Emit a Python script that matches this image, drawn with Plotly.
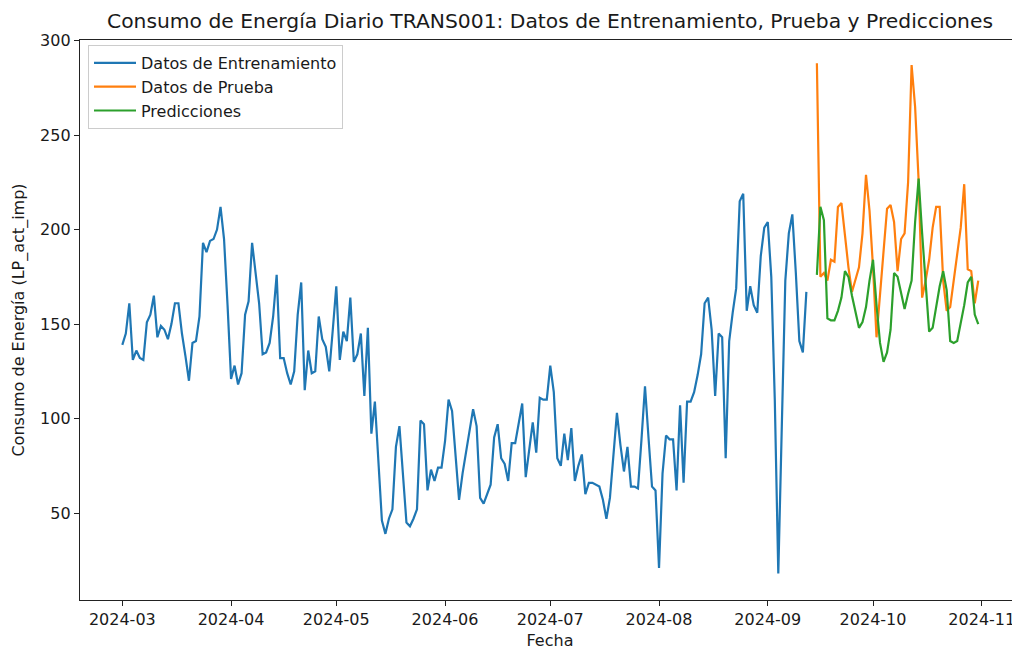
import pandas as pd
import plotly.graph_objects as go

# ---------------- data ----------------
train_start = "2024-03-01"
test_start = "2024-09-15"

train_values = [
    # March
    139, 145, 161, 131, 136, 132, 131, 151, 155, 165, 143, 149, 147, 142, 150, 161,
    161, 145, 133, 120, 140, 141, 154, 193, 188, 194, 195, 200, 212, 195, 160,
    # April
    121, 128, 118, 124, 155, 162, 193, 177, 161, 134, 135, 140, 154, 176, 132,
    132, 124, 118, 125, 155, 172, 115, 136, 124, 125, 154, 142, 138, 125, 147,
    # May
    170, 131, 146, 141, 164, 130, 134, 145, 112, 148, 92, 109, 78, 46, 39, 47,
    52, 85, 96, 69, 45, 43, 47, 52, 99, 97, 62, 73, 67, 74, 74,
    # June
    88, 110, 104, 80, 57, 71, 83, 94, 105, 96, 58, 55, 60, 65, 90,
    97, 79, 76, 67, 87, 87, 97, 108, 69, 83, 98, 82, 111, 110, 110,
    # July
    128, 114, 79, 75, 92, 78, 95, 67, 75, 81, 60, 66, 66, 65, 64, 57,
    47, 58, 80, 103, 86, 72, 85, 64, 64, 63, 89, 117, 90, 64, 62,
    # August
    21, 71, 91, 89, 89, 62, 107, 66, 109, 109, 114, 123, 134, 161, 164, 147,
    112, 145, 143, 79, 141, 156, 169, 215, 219, 157, 170, 160, 156, 186, 201,
    # September
    204, 175, 110, 18, 96, 173, 198, 208, 177, 141, 135, 167,
]

test_values = [
    288, 175, 177, 173, 184, 183, 212, 214, 197, 180,
    167, 173, 180, 198, 229, 210, 180, 143, 165, 190,
    211, 213, 204, 178, 195, 198, 225, 287, 265, 226,
    164, 173, 184, 201, 212, 212, 173, 157, 159, 173,
    187, 201, 224, 179, 178, 161, 173,
]

pred_values = [
    176, 212, 205, 153, 152, 152, 157, 164, 178, 175,
    165, 157, 148, 151, 159, 173, 184, 160, 140, 130,
    135, 147, 177, 175, 166, 158, 166, 173, 204, 227,
    198, 170, 146, 148, 159, 170, 178, 168, 141, 140,
    141, 150, 160, 172, 175, 155, 150,
]

series_names = ["Datos de Entrenamiento", "Datos de Prueba", "Predicciones"]
series_colors = ["#1f77b4", "#ff7f0e", "#2ca02c"]

title_text = "Consumo de Energía Diario TRANS001: Datos de Entrenamiento, Prueba y Predicciones"
x_title = "Fecha"
y_title = "Consumo de Energía (LP_act_imp)"

y_ticks = [50, 100, 150, 200, 250, 300]
month_ticks = pd.date_range("2024-03-01", "2024-11-01", freq="MS")
month_labels = [d.strftime("%Y-%m") for d in month_ticks]

# ---------------- figure ----------------
train_dates = pd.date_range(train_start, periods=len(train_values), freq="D")
test_dates = pd.date_range(test_start, periods=len(test_values), freq="D")

FONT = "DejaVu Sans"
TXT = "#1a1a1a"
fig = go.Figure()
for name, color, xs, ys in [
    (series_names[0], series_colors[0], train_dates, train_values),
    (series_names[1], series_colors[1], test_dates, test_values),
    (series_names[2], series_colors[2], test_dates, pred_values),
]:
    fig.add_trace(go.Scatter(
        x=xs, y=ys, mode="lines", name=name, legendgroup=name,
        line=dict(color=color, width=2.2),
    ))

origin = pd.Timestamp("2024-03-01")
x_range = [origin - pd.Timedelta(days=12.06), origin + pd.Timedelta(days=255.9)]

# the page body adds an 8px offset, so the figure is laid out 8px smaller
W, H = 1012, 643
fig.update_layout(
    width=W, height=H,
    margin=dict(l=72, r=0, t=32, b=51),
    paper_bgcolor="white", plot_bgcolor="white",
    font=dict(family=FONT, size=16, color=TXT),
    title=dict(text=title_text, x=0.5, xref="paper", xanchor="center",
               y=1 - 13 / H, yref="container", yanchor="middle",
               font=dict(family=FONT, size=20.3, color=TXT)),
    showlegend=True,
    legend=dict(x=8 / 940, y=1 - 5 / 560, xanchor="left", yanchor="top",
                bgcolor="rgba(255,255,255,0.85)", bordercolor="#cccccc",
                borderwidth=1, font=dict(family=FONT, size=16, color=TXT),
                tracegroupgap=4, traceorder="normal", itemwidth=42),
    xaxis=dict(
        range=x_range, type="date",
        tickmode="array", tickvals=list(month_ticks), ticktext=month_labels,
        showgrid=False, zeroline=False,
        showline=True, linecolor="#222222", linewidth=1.3, mirror=True,
        ticks="outside", ticklen=5, tickwidth=1.3, tickcolor="#222222",
        tickfont=dict(family=FONT, size=16, color=TXT),
        title=dict(text=x_title, standoff=6, font=dict(family=FONT, size=16, color=TXT)),
        automargin=False,
    ),
    yaxis=dict(
        range=[4, 300.3],
        tickmode="array", tickvals=y_ticks, ticktext=[str(v) for v in y_ticks],
        showgrid=False, zeroline=False,
        showline=True, linecolor="#222222", linewidth=1.3, mirror=False,
        ticks="outside", ticklen=5, tickwidth=1.3, tickcolor="#222222",
        tickfont=dict(family=FONT, size=16, color=TXT),
        title=dict(text=y_title, standoff=11, font=dict(family=FONT, size=16, color=TXT)),
        automargin=False,
    ),
)

fig.write_html("out.html")
